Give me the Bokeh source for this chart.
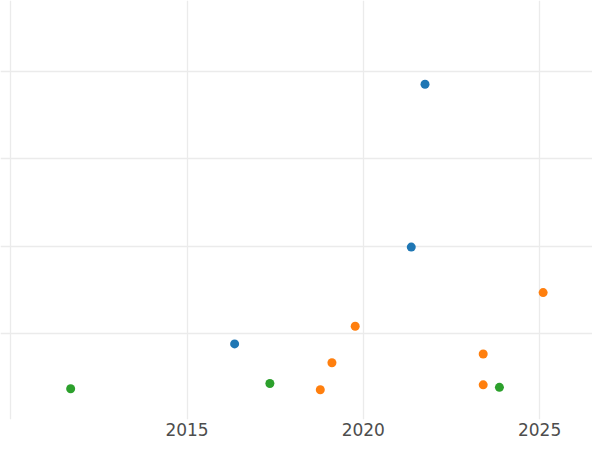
from bokeh.plotting import figure
from bokeh.models import FixedTicker, Range1d
from bokeh.embed import file_html
from bokeh.resources import INLINE

# Data
blue_year = [2021.75, 2021.36, 2016.35]
blue_val = [3.858, 1.988, 0.876]

orange_year = [2025.10, 2019.77, 2023.40, 2019.11, 2023.40, 2018.78]
orange_val = [1.465, 1.079, 0.760, 0.659, 0.406, 0.350]

green_year = [2011.70, 2017.35, 2023.86]
green_val = [0.361, 0.422, 0.377]

x_label_ticks = [2015, 2020, 2025]
x_grid_ticks = [2010, 2015, 2020, 2025]
y_grid_ticks = [1, 2, 3, 4]

p = figure(width=592, height=442, output_backend="svg", toolbar_location=None,
           x_range=Range1d(2009.71, 2026.50), y_range=Range1d(0.008, 4.819),
           min_border_left=0, min_border_right=0, min_border_top=0,
           min_border_bottom=23)

p.outline_line_color = None
p.background_fill_color = "white"
p.border_fill_color = "white"

p.yaxis.visible = False

p.xaxis.ticker = FixedTicker(ticks=x_label_ticks)
p.xaxis.axis_line_color = None
p.xaxis.major_tick_line_color = None
p.xaxis.minor_tick_line_color = None
p.xaxis.major_tick_out = 0
p.xaxis.major_tick_in = 0
p.xaxis.major_label_standoff = 3
p.xaxis.major_label_text_font = "DejaVu Sans"
p.xaxis.major_label_text_font_size = "17px"
p.xaxis.major_label_text_color = "#4d4d4d"

p.xgrid.ticker = FixedTicker(ticks=x_grid_ticks)
p.ygrid.ticker = FixedTicker(ticks=y_grid_ticks)
p.xgrid.grid_line_color = "#ebebeb"
p.ygrid.grid_line_color = "#ebebeb"
p.xgrid.grid_line_width = 1.3
p.ygrid.grid_line_width = 1.3

p.scatter(blue_year, blue_val, size=9, color="#1f77b4", line_color=None)
p.scatter(orange_year, orange_val, size=9, color="#ff7f0e", line_color=None)
p.scatter(green_year, green_val, size=9, color="#2ca02c", line_color=None)

open("out.html", "w").write(file_html(p, INLINE))
